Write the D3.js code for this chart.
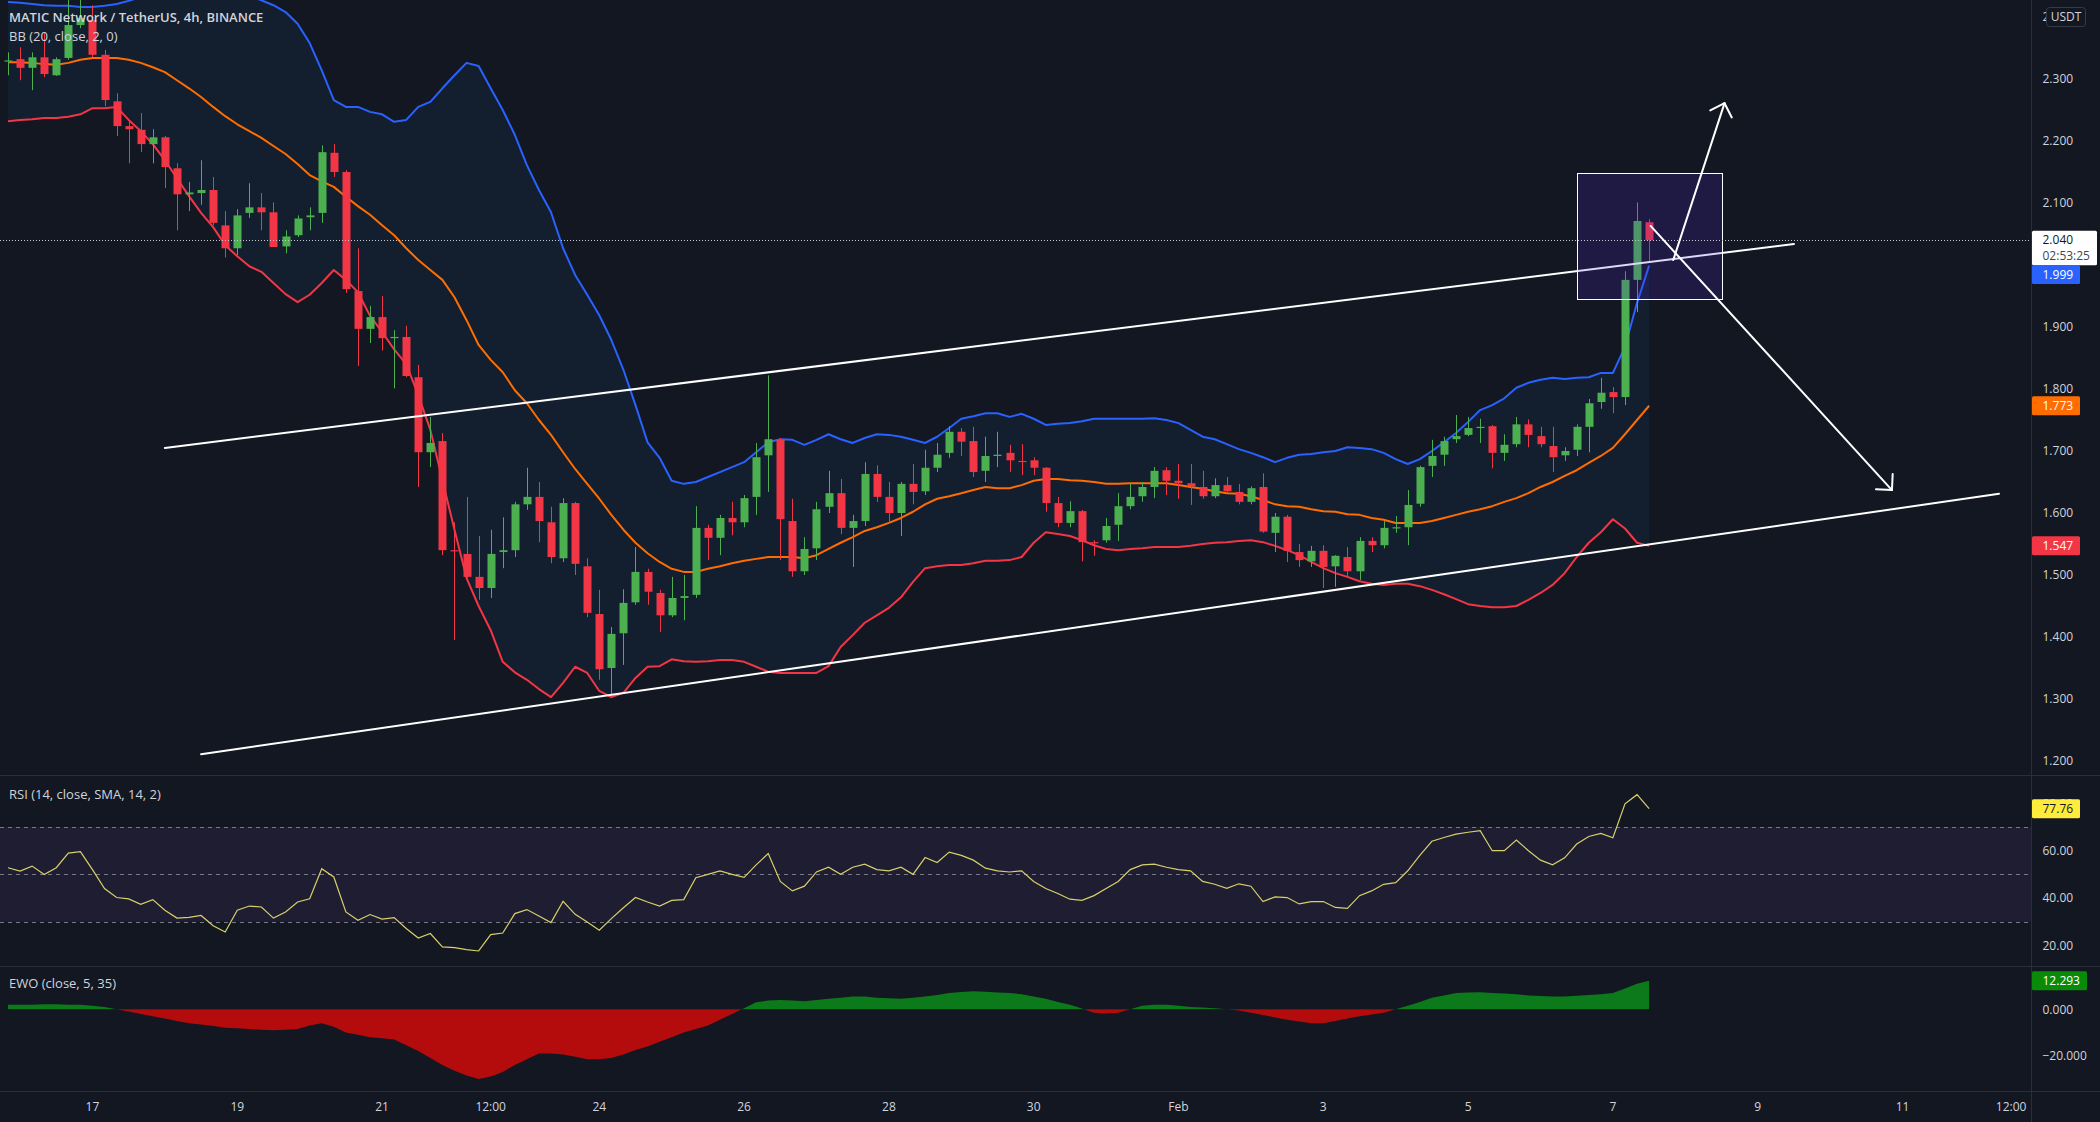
<!DOCTYPE html>
<html><head><meta charset="utf-8">
<script src="https://cdn.jsdelivr.net/npm/d3@7"></script>
<style>
html,body{margin:0;padding:0;background:#131722;overflow:hidden;}
svg{display:block;}
text{font-family:"Open Sans","Noto Sans",Roboto,sans-serif;}
</style></head><body>
<svg id="c" width="2100" height="1122"></svg>
<script>
// ---------------- DATA ----------------
const startTime = "2022-01-15T20:00:00Z"; // first 4h candle
const opens = [2.329,2.332,2.318,2.335,2.306,2.334,2.387,2.395,2.339,2.264,
2.224,2.218,2.195,2.206,2.156,2.114,2.116,2.121,2.064,2.027,
2.084,2.093,2.085,2.030,2.048,2.077,2.084,2.181,2.150,1.958,
1.897,1.916,1.882,1.884,1.819,1.698,1.716,1.540,1.534,1.497,
1.479,1.537,1.540,1.614,1.626,1.585,1.527,1.616,1.514,1.437,
1.350,1.406,1.456,1.505,1.471,1.435,1.463,1.468,1.576,1.560,
1.592,1.585,1.626,1.693,1.718,1.587,1.506,1.543,1.610,1.632,
1.576,1.587,1.663,1.626,1.600,1.647,1.635,1.673,1.697,1.731,
1.716,1.668,1.692,1.697,1.684,1.685,1.673,1.616,1.584,1.603,
1.553,1.556,1.581,1.611,1.627,1.642,1.669,1.652,1.648,1.642,
1.627,1.645,1.634,1.618,1.642,1.568,1.594,1.537,1.522,1.539,
1.514,1.529,1.506,1.555,1.548,1.576,1.577,1.615,1.676,1.694,
1.719,1.726,1.737,1.740,1.697,1.711,1.743,1.724,1.708,1.693,
1.702,1.739,1.779,1.795,1.787,1.976,2.069];
const highs = [2.343,2.351,2.343,2.374,2.335,2.430,2.435,2.419,2.347,2.277,
2.234,2.245,2.219,2.208,2.164,2.134,2.169,2.142,2.087,2.090,
2.132,2.116,2.101,2.056,2.080,2.093,2.193,2.195,2.153,2.027,
1.934,1.950,1.895,1.902,1.839,1.755,1.729,1.585,1.626,1.563,
1.573,1.593,1.618,1.673,1.650,1.610,1.624,1.618,1.527,1.476,
1.416,1.477,1.545,1.510,1.476,1.497,1.500,1.611,1.581,1.597,
1.618,1.629,1.713,1.822,1.721,1.623,1.561,1.618,1.668,1.655,
1.597,1.682,1.677,1.650,1.650,1.679,1.702,1.713,1.740,1.737,
1.739,1.723,1.731,1.710,1.711,1.690,1.674,1.626,1.619,1.605,
1.556,1.592,1.632,1.648,1.650,1.674,1.674,1.679,1.679,1.668,
1.656,1.658,1.647,1.643,1.664,1.600,1.597,1.550,1.547,1.548,
1.532,1.545,1.561,1.561,1.587,1.595,1.637,1.676,1.718,1.723,
1.758,1.755,1.752,1.742,1.727,1.755,1.751,1.739,1.739,1.706,
1.743,1.784,1.818,1.803,1.990,2.101,2.074];
const lows = [2.306,2.298,2.282,2.303,2.305,2.331,2.382,2.335,2.256,2.208,
2.164,2.182,2.164,2.124,2.056,2.087,2.097,2.064,2.012,2.016,
2.076,2.056,2.029,2.019,2.045,2.056,2.068,2.142,1.955,1.837,
1.874,1.862,1.801,1.819,1.642,1.674,1.532,1.395,1.495,1.460,
1.463,1.511,1.529,1.605,1.553,1.519,1.521,1.500,1.432,1.331,
1.306,1.355,1.452,1.452,1.408,1.432,1.427,1.463,1.524,1.532,
1.564,1.577,1.597,1.634,1.524,1.497,1.500,1.524,1.600,1.566,
1.513,1.579,1.618,1.585,1.563,1.614,1.629,1.666,1.689,1.692,
1.658,1.650,1.674,1.666,1.661,1.661,1.602,1.577,1.577,1.522,
1.531,1.552,1.555,1.606,1.618,1.624,1.629,1.623,1.613,1.623,
1.624,1.632,1.614,1.614,1.568,1.537,1.521,1.513,1.513,1.479,
1.481,1.497,1.492,1.537,1.543,1.568,1.548,1.610,1.658,1.676,
1.713,1.724,1.713,1.672,1.684,1.706,1.706,1.706,1.666,1.684,
1.692,1.698,1.768,1.761,1.774,1.924,2.005];
const closes = [2.330,2.318,2.335,2.308,2.332,2.387,2.398,2.339,2.266,2.224,
2.219,2.195,2.206,2.158,2.114,2.117,2.121,2.068,2.027,2.080,
2.093,2.085,2.029,2.046,2.075,2.080,2.182,2.150,1.961,1.897,
1.916,1.882,1.884,1.821,1.698,1.713,1.540,1.539,1.497,1.479,
1.534,1.540,1.614,1.626,1.587,1.529,1.616,1.518,1.439,1.348,
1.405,1.455,1.505,1.473,1.435,1.463,1.466,1.576,1.560,1.592,
1.585,1.624,1.690,1.719,1.590,1.506,1.542,1.606,1.632,1.576,
1.587,1.663,1.626,1.600,1.647,1.634,1.673,1.694,1.731,1.715,
1.666,1.692,1.694,1.685,1.683,1.673,1.616,1.584,1.603,1.553,
1.552,1.579,1.611,1.626,1.642,1.668,1.652,1.648,1.643,1.627,
1.645,1.635,1.618,1.640,1.570,1.594,1.539,1.524,1.539,1.513,
1.531,1.506,1.555,1.548,1.576,1.577,1.613,1.674,1.692,1.716,
1.724,1.737,1.739,1.697,1.710,1.743,1.726,1.711,1.690,1.700,
1.739,1.777,1.794,1.787,1.976,2.071,2.040];
const bbUpper = [2.424,2.423,2.421,2.419,2.418,2.418,2.416,2.416,2.418,2.421,
2.426,2.432,2.440,2.447,2.456,2.460,2.456,2.448,2.447,2.440,
2.434,2.427,2.419,2.408,2.389,2.358,2.314,2.266,2.255,2.255,
2.247,2.243,2.231,2.234,2.255,2.263,2.285,2.306,2.326,2.321,
2.285,2.250,2.210,2.161,2.121,2.085,2.027,1.984,1.952,1.919,
1.879,1.831,1.774,1.714,1.689,1.652,1.647,1.650,1.658,1.666,
1.674,1.682,1.698,1.714,1.719,1.718,1.710,1.718,1.727,1.719,
1.713,1.721,1.727,1.726,1.723,1.718,1.713,1.723,1.737,1.752,
1.756,1.761,1.761,1.755,1.760,1.752,1.742,1.744,1.745,1.748,
1.752,1.752,1.752,1.752,1.752,1.753,1.750,1.745,1.734,1.723,
1.719,1.711,1.703,1.697,1.690,1.682,1.689,1.694,1.695,1.698,
1.700,1.706,1.705,1.703,1.697,1.687,1.679,1.687,1.700,1.714,
1.729,1.747,1.766,1.774,1.785,1.802,1.810,1.815,1.818,1.816,
1.818,1.819,1.826,1.826,1.868,1.939,1.999];
const bbBasis = [2.327,2.327,2.326,2.324,2.323,2.326,2.331,2.334,2.334,2.334,
2.331,2.326,2.319,2.311,2.298,2.285,2.271,2.255,2.240,2.227,
2.216,2.205,2.192,2.179,2.163,2.145,2.135,2.126,2.110,2.095,
2.081,2.064,2.048,2.027,2.008,1.992,1.976,1.948,1.911,1.871,
1.847,1.827,1.798,1.777,1.750,1.726,1.698,1.671,1.647,1.623,
1.597,1.573,1.552,1.535,1.521,1.510,1.505,1.505,1.510,1.514,
1.519,1.523,1.526,1.529,1.529,1.529,1.527,1.532,1.542,1.552,
1.561,1.571,1.577,1.584,1.592,1.602,1.614,1.623,1.627,1.632,
1.637,1.642,1.640,1.640,1.645,1.652,1.655,1.655,1.653,1.652,
1.650,1.647,1.647,1.648,1.648,1.648,1.648,1.645,1.642,1.639,
1.635,1.632,1.631,1.627,1.621,1.614,1.611,1.610,1.606,1.603,
1.602,1.598,1.597,1.592,1.589,1.584,1.584,1.584,1.587,1.592,
1.597,1.602,1.606,1.611,1.618,1.624,1.632,1.642,1.650,1.660,
1.669,1.681,1.692,1.705,1.727,1.750,1.773];
const bbLower = [2.232,2.234,2.235,2.237,2.237,2.239,2.243,2.253,2.253,2.255,
2.234,2.216,2.195,2.169,2.140,2.111,2.084,2.061,2.032,2.014,
1.998,1.989,1.971,1.953,1.940,1.952,1.971,1.992,1.976,1.956,
1.918,1.892,1.864,1.840,1.790,1.734,1.653,1.573,1.495,1.450,
1.411,1.360,1.343,1.331,1.316,1.303,1.326,1.352,1.342,1.313,
1.303,1.310,1.334,1.352,1.353,1.364,1.361,1.360,1.361,1.363,
1.363,1.360,1.352,1.344,1.342,1.342,1.342,1.342,1.353,1.384,
1.403,1.423,1.435,1.447,1.464,1.489,1.511,1.514,1.516,1.516,
1.519,1.523,1.523,1.524,1.529,1.552,1.569,1.566,1.563,1.556,
1.548,1.542,1.540,1.542,1.543,1.545,1.545,1.545,1.547,1.550,
1.552,1.553,1.555,1.556,1.553,1.547,1.540,1.532,1.521,1.511,
1.503,1.497,1.490,1.486,1.484,1.486,1.486,1.482,1.476,1.469,
1.461,1.453,1.450,1.448,1.448,1.450,1.460,1.471,1.484,1.503,
1.529,1.552,1.569,1.590,1.575,1.552,1.547];
const rsi = [52.8,51.4,53.5,49.9,52.8,59.0,59.6,52.0,44.0,40.2,
39.6,37.3,39.3,34.8,31.5,31.8,32.6,28.3,25.6,34.8,
36.6,36.2,31.5,34.1,38.3,39.7,52.4,48.9,34.1,30.6,
33.0,31.1,31.7,27.1,23.1,25.0,19.3,19.0,18.2,17.6,
24.5,25.2,33.4,35.1,32.4,29.6,38.6,33.1,29.9,26.4,
31.3,35.9,40.2,38.3,36.6,39.0,39.3,48.6,50.0,51.5,
50.0,48.7,54.0,58.8,47.0,43.0,45.0,51.0,53.0,50.0,
53.0,54.3,52.0,51.5,53.0,50.0,57.1,55.0,59.4,58.0,
56.0,52.6,51.5,51.0,51.5,47.0,44.0,41.9,39.5,39.0,
41.0,44.0,47.0,52.0,54.0,54.3,53.0,52.0,51.5,47.0,
45.8,44.1,46.0,45.0,38.5,40.5,40.2,37.5,38.5,38.5,
36.0,35.6,41.0,43.0,45.8,46.5,51.5,58.0,64.0,65.6,
67.0,67.8,68.5,60.0,60.0,64.5,60.0,56.0,54.0,57.0,
62.8,66.0,67.3,65.5,79.8,83.7,77.76];
const ewo = [2,2,2,2.2,2.2,2,2,1.5,1,0,
-1,-2,-3,-4,-5,-6,-6.5,-7.2,-8,-8.2,
-8.5,-8.8,-9,-8.8,-8.5,-7,-6,-7.5,-10,-11,
-12,-12.5,-13,-15.5,-18,-21,-24,-26.5,-28.5,-30,
-29,-27,-24,-21.5,-19,-19,-19.5,-20.5,-21.5,-21.5,
-21,-19.5,-17.5,-16,-14,-12,-10,-8.5,-7,-4.5,
-2,0.5,3,3.8,4,3.8,3.5,4,4.5,5,
5.5,5.5,5,4.8,4.5,5,5.5,6.2,7,7.5,
7.8,7.6,7.2,7,6.5,5.5,4.5,3.2,2,0.3,
-1.5,-1.8,-1.5,0,1.5,2,2,1.5,1,0.8,
0.5,0,-0.5,-1.5,-2.5,-3.5,-4.5,-5.3,-6,-6,
-5,-4,-3,-2.2,-1.5,0,1.5,3.2,5,6,
7,7.2,7.3,7,6.8,6.5,6,5.7,5.5,5.5,
5.8,6.2,6.5,7,9,11,12.293];
const priceTicks = [1.2,1.3,1.4,1.5,1.6,1.7,1.8,1.9,2.0,2.1,2.2,2.3,2.4];
const rsiTicks = [20,40,60,80];
const rsiLevels = [70,50,30];
const ewoTicks = [-20,0];
const timeTicks = [["2022-01-17T00:00:00Z","17"],["2022-01-19T00:00:00Z","19"],["2022-01-21T00:00:00Z","21"],
["2022-01-22T12:00:00Z","12:00"],["2022-01-24T00:00:00Z","24"],["2022-01-26T00:00:00Z","26"],
["2022-01-28T00:00:00Z","28"],["2022-01-30T00:00:00Z","30"],["2022-02-01T00:00:00Z","Feb"],
["2022-02-03T00:00:00Z","3"],["2022-02-05T00:00:00Z","5"],["2022-02-07T00:00:00Z","7"],
["2022-02-09T00:00:00Z","9"],["2022-02-11T00:00:00Z","11"],["2022-02-12T12:00:00Z","12:00"]];
const channelTop = [["2022-01-18T00:00:00Z",1.705],["2022-02-09T12:00:00Z",2.034]];
const channelBottom = [["2022-01-18T12:00:00Z",1.211],["2022-02-12T08:00:00Z",1.631]];
const boxCorners = [["2022-02-06T12:00:00Z",2.148],["2022-02-08T12:00:00Z",1.944]];
const arrowUp = [["2022-02-07T20:00:00Z",2.008],["2022-02-08T13:00:00Z",2.261]];
const arrowDown = [["2022-02-07T12:30:00Z",2.063],["2022-02-10T20:30:00Z",1.637]];
const lastPrice = 2.040, countdown = "02:53:25";

// ---------------- LAYOUT ----------------
const svg = d3.select("#c");
const plotR = 2031;
const mainTop = 0, mainBot = 776, rsiTop = 777, rsiBot = 967, ewoTop = 968, ewoBot = 1092;
const BG = "#131722", AXT = "#d1d4dc", SEP = "#2a2e39";
const UP = "#4caf50", DN = "#f23645";

const t0 = new Date(startTime);
const N = closes.length;
const dates = d3.range(N).map(i => d3.utcHour.offset(t0, 4 * i));
const x = d3.scaleUtc().domain([t0, d3.utcHour.offset(t0, 4 * 157)]).range([8, 8 + 157 * 12.067]);
const y = d3.scaleLinear().domain([1.2, 2.3]).range([761, 79]);
const yR = d3.scaleLinear().domain([20, 60]).range([945.3, 850.7]);
const yE = d3.scaleLinear().domain([-20, 0]).range([1055.7, 1009.3]);

svg.append("rect").attr("width", 2100).attr("height", 1122).attr("fill", BG);
const defs = svg.append("defs");
function clip(id, y0, y1) {
  defs.append("clipPath").attr("id", id).append("rect").attr("x", 0).attr("y", y0).attr("width", plotR).attr("height", y1 - y0);
}
clip("cm", mainTop, mainBot); clip("cr", rsiTop, rsiBot); clip("ce", ewoTop, ewoBot);

// ---------------- MAIN PANE ----------------
const gm = svg.append("g").attr("clip-path", "url(#cm)");
const idx = d3.range(N);
gm.append("path").datum(idx)
  .attr("d", d3.area().x(i => x(dates[i])).y0(i => y(bbLower[i])).y1(i => y(bbUpper[i])))
  .attr("fill", "rgba(33,150,243,0.06)");
const bbLine = arr => d3.line().x(i => x(dates[i])).y(i => y(arr[i]));
[[bbUpper, "#2962ff"], [bbBasis, "#ff6d00"], [bbLower, "#f23645"]].forEach(([a, c]) => {
  gm.append("path").datum(idx).attr("d", bbLine(a)).attr("fill", "none").attr("stroke", c).attr("stroke-width", 2).attr("stroke-linejoin", "round");
});

const cg = gm.append("g");
idx.forEach(i => {
  const cx = Math.round(x(dates[i]));
  const up = closes[i] >= opens[i];
  const col = up ? UP : DN;
  cg.append("line").attr("x1", cx + 0.5).attr("x2", cx + 0.5).attr("y1", y(highs[i])).attr("y2", y(lows[i])).attr("stroke", col).attr("stroke-width", 1);
  const yt = y(Math.max(opens[i], closes[i])), yb = y(Math.min(opens[i], closes[i]));
  cg.append("rect").attr("x", cx - 3.5).attr("width", 8).attr("y", yt).attr("height", Math.max(1.2, yb - yt)).attr("fill", col);
});

// drawings
const P = d => [x(new Date(d[0])), y(d[1])];
function seg(a, b) {
  const p = P(a), q = P(b);
  gm.append("line").attr("x1", p[0]).attr("y1", p[1]).attr("x2", q[0]).attr("y2", q[1]).attr("stroke", "#ffffff").attr("stroke-width", 2).attr("stroke-linecap", "round");
}
seg(channelTop[0], channelTop[1]);
seg(channelBottom[0], channelBottom[1]);
{
  const p = P(boxCorners[0]), q = P(boxCorners[1]);
  gm.append("rect").attr("x", Math.round(p[0]) + 0.5).attr("y", Math.round(p[1]) + 0.5)
    .attr("width", Math.round(q[0] - p[0])).attr("height", Math.round(q[1] - p[1]))
    .attr("fill", "rgba(80,45,215,0.19)").attr("stroke", "#ffffff").attr("stroke-width", 1);
}
function arrow(a, b) {
  seg(a, b);
  const p = P(a), q = P(b);
  const ang = Math.atan2(q[1] - p[1], q[0] - p[0]);
  [-1, 1].forEach(s => {
    const t = ang + Math.PI + s * Math.PI / 4;
    gm.append("line").attr("x1", q[0]).attr("y1", q[1]).attr("x2", q[0] + 16 * Math.cos(t)).attr("y2", q[1] + 16 * Math.sin(t))
      .attr("stroke", "#ffffff").attr("stroke-width", 2).attr("stroke-linecap", "round");
  });
}
arrow(arrowUp[0], arrowUp[1]);
arrow(arrowDown[0], arrowDown[1]);

// last price dotted line
gm.append("line").attr("x1", 0).attr("x2", plotR).attr("y1", Math.round(y(lastPrice)) + 0.5).attr("y2", Math.round(y(lastPrice)) + 0.5)
  .attr("stroke", "#c8cad0").attr("stroke-width", 1).attr("stroke-dasharray", "1 2");

// titles
svg.append("text").attr("x", 9).attr("y", 22).attr("fill", AXT).attr("font-size", 13).attr("font-weight", 600).text("MATIC Network / TetherUS, 4h, BINANCE");
svg.append("text").attr("x", 9).attr("y", 41).attr("fill", AXT).attr("font-size", 13).text("BB (20, close, 2, 0)");

// ---------------- RSI PANE ----------------
const gr = svg.append("g").attr("clip-path", "url(#cr)");
gr.append("rect").attr("x", 0).attr("width", plotR).attr("y", yR(70)).attr("height", yR(30) - yR(70)).attr("fill", "rgba(126,87,194,0.1)");
rsiLevels.forEach(v => {
  gr.append("line").attr("x1", 0).attr("x2", plotR).attr("y1", Math.round(yR(v)) + 0.5).attr("y2", Math.round(yR(v)) + 0.5)
    .attr("stroke", "#787b86").attr("stroke-width", 1).attr("stroke-dasharray", "4 4");
});
gr.append("path").datum(idx).attr("d", d3.line().x(i => x(dates[i])).y(i => yR(rsi[i])))
  .attr("fill", "none").attr("stroke", "#d8d068").attr("stroke-width", 1.2);
svg.append("text").attr("x", 9).attr("y", 799).attr("fill", AXT).attr("font-size", 13).text("RSI (14, close, SMA, 14, 2)");

// ---------------- EWO PANE ----------------
const ge = svg.append("g").attr("clip-path", "url(#ce)");
const areaE = d3.area().x(i => x(dates[i])).y0(yE(0));
defs.append("clipPath").attr("id", "epos").append("rect").attr("x", 0).attr("y", ewoTop).attr("width", plotR).attr("height", yE(0) - ewoTop);
defs.append("clipPath").attr("id", "eneg").append("rect").attr("x", 0).attr("y", yE(0)).attr("width", plotR).attr("height", ewoBot - yE(0));
ge.append("path").datum(idx).attr("clip-path", "url(#epos)").attr("d", areaE.y1(i => yE(ewo[i]))).attr("fill", "#0c7a1a");
ge.append("path").datum(idx).attr("clip-path", "url(#eneg)").attr("d", areaE.y1(i => yE(ewo[i]))).attr("fill", "#b40c0c");
svg.append("text").attr("x", 9).attr("y", 988).attr("fill", AXT).attr("font-size", 13).text("EWO (close, 5, 35)");

// ---------------- SEPARATORS ----------------
[mainBot, rsiBot, ewoBot].forEach(v => {
  svg.append("line").attr("x1", 0).attr("x2", 2100).attr("y1", v - 0.5).attr("y2", v - 0.5).attr("stroke", SEP).attr("stroke-width", 1);
});
svg.append("line").attr("x1", plotR + 0.5).attr("x2", plotR + 0.5).attr("y1", 0).attr("y2", 1122).attr("stroke", SEP).attr("stroke-width", 1);

// ---------------- AXES ----------------
const axX = 2042.5;
const fmt3 = d3.format(".3f"), fmt2 = d3.format(".2f");
priceTicks.forEach(v => {
  svg.append("text").attr("x", axX).attr("y", y(v)).attr("dy", "0.35em").attr("fill", AXT).attr("font-size", 12).text(fmt3(v));
});
rsiTicks.forEach(v => {
  svg.append("text").attr("x", axX).attr("y", yR(v)).attr("dy", "0.35em").attr("fill", AXT).attr("font-size", 12).text(fmt2(v));
});
ewoTicks.forEach(v => {
  svg.append("text").attr("x", axX).attr("y", yE(v)).attr("dy", "0.35em").attr("fill", AXT).attr("font-size", 12).text(fmt3(v).replace("-", "\u2212"));
});
timeTicks.forEach(([d, l]) => {
  svg.append("text").attr("x", x(new Date(d))).attr("y", 1107).attr("dy", "0.35em").attr("text-anchor", "middle").attr("fill", AXT).attr("font-size", 12).text(l);
});

// value labels on the price axis
function tag(yv, text, bg, fg, w) {
  svg.append("rect").attr("x", plotR + 1).attr("y", yv - 9.5).attr("width", w).attr("height", 19).attr("fill", bg).attr("rx", 1.5);
  svg.append("text").attr("x", axX).attr("y", yv).attr("dy", "0.35em").attr("fill", fg).attr("font-size", 12).text(text);
}
// last price box (two lines)
{
  const yl = y(lastPrice);
  svg.append("rect").attr("x", plotR + 1).attr("y", yl - 9.5).attr("width", 65).attr("height", 34.5).attr("fill", "#ffffff").attr("rx", 1.5);
  svg.append("text").attr("x", axX).attr("y", yl).attr("dy", "0.35em").attr("fill", "#131722").attr("font-size", 12).text(fmt3(lastPrice));
  svg.append("text").attr("x", axX).attr("y", yl + 16).attr("dy", "0.35em").attr("fill", "#434651").attr("font-size", 12).text(countdown);
}
tag(274.6, fmt3(bbUpper[N - 1]), "#2962ff", "#ffffff", 48);
tag(y(bbBasis[N - 1]), fmt3(bbBasis[N - 1]), "#ff6d00", "#ffffff", 48);
tag(y(bbLower[N - 1]), fmt3(bbLower[N - 1]), "#f23645", "#ffffff", 48);
tag(yR(rsi[N - 1]), fmt2(rsi[N - 1]), "#ffeb3b", "#131722", 48);
tag(yE(ewo[N - 1]), fmt3(ewo[N - 1]), "#098a09", "#ffffff", 55);

// currency button
svg.append("rect").attr("x", 2046.5).attr("y", 7.5).attr("width", 39).attr("height", 19).attr("rx", 3).attr("fill", BG).attr("stroke", "#363a45");
svg.append("text").attr("x", 2066).attr("y", 17).attr("dy", "0.35em").attr("text-anchor", "middle").attr("fill", AXT).attr("font-size", 12).text("USDT");
</script>
</body></html>
